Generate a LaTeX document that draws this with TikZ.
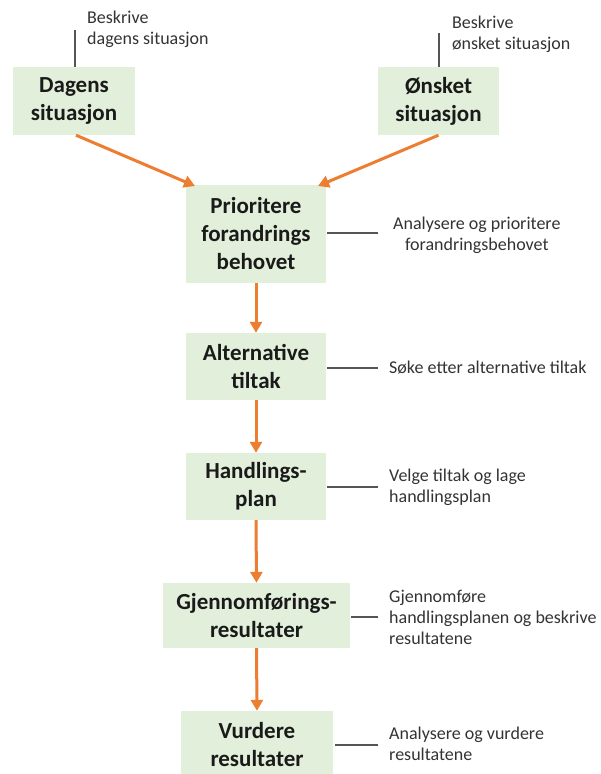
\documentclass[tikz,border=0pt]{standalone}
\usepackage{fontspec}
\setmainfont{Carlito}
\usetikzlibrary{arrows.meta}
\definecolor{boxgreen}{HTML}{E2EFDA}
\definecolor{arrorange}{HTML}{ED7D31}
\definecolor{txtdark}{HTML}{1A1A1A}
\definecolor{txtgray}{HTML}{333333}
\definecolor{linegray}{HTML}{555555}
\tikzset{
  stepbox/.style={rectangle, fill=boxgreen, inner sep=0pt, align=center,
    text=txtdark, font=\fontsize{23}{28}\selectfont\bfseries},
  sidelabel/.style={anchor=west, inner sep=0pt, text=txtgray,
    font=\fontsize{18}{21}\selectfont},
  flow/.style={draw=arrorange, line width=3pt, -{Triangle[length=11pt,width=12pt]}, shorten >=0pt},
  tick/.style={draw=linegray, line width=1.3pt},
}
\begin{document}
\begin{tikzpicture}[x=1pt,y=-1pt]
\useasboundingbox (0,0) rectangle (601,774);
\clip (0,0) rectangle (601,774);
% boxes
\node[stepbox, minimum width=122pt, minimum height=68pt] (dagens) at (74,101) {Dagens\\situasjon};
\node[stepbox, minimum width=121pt, minimum height=68pt] (onsket) at (438.5,101) {Ønsket\\situasjon};
\node[stepbox, minimum width=140pt, minimum height=98pt] (prior) at (256,234) {Prioritere\\forandrings\\behovet};
\node[stepbox, minimum width=140pt, minimum height=67pt] (alt) at (256,366.5) {Alternative\\tiltak};
\node[stepbox, minimum width=140pt, minimum height=67pt] (handl) at (256,486.5) {Handlings-\\plan};
\node[stepbox, minimum width=187pt, minimum height=65pt] (gjen) at (256.5,615.5) {Gjennomførings-\\resultater};
\node[stepbox, minimum width=152pt, minimum height=67pt] (vurd) at (257,744.5) {Vurdere\\resultater};
% side labels
\node[sidelabel, align=left] (ldagens) at (87,29) {Beskrive\\dagens situasjon};
\node[sidelabel, align=left] (lonsket) at (452,34) {Beskrive\\ønsket situasjon};
\node[sidelabel, align=center] (lprior) at (393,235) {Analysere og prioritere\\forandringsbehovet};
\node[sidelabel, align=left] (lalt) at (389,368) {Søke etter alternative tiltak};
\node[sidelabel, align=left] (lhandl) at (389,487) {Velge tiltak og lage\\handlingsplan};
\node[sidelabel, align=left] (lgjen) at (389,617) {Gjennomføre\\handlingsplanen og beskrive\\resultatene};
\node[sidelabel, align=left] (lvurd) at (389,744) {Analysere og vurdere\\resultatene};
% tick line end points
\coordinate (tdagens) at (75,30);
\coordinate (tonsket) at (439,33);
\coordinate (tprior) at (378,233);
\coordinate (talt) at (378,368);
\coordinate (thandl) at (378,487);
\coordinate (tgjen) at (378,617);
\coordinate (tvurd) at (378,745);
\draw[tick] (dagens.north -| tdagens) -- (tdagens);
\draw[tick] (onsket.north -| tonsket) -- (tonsket);
\draw[tick] ([xshift=1pt]prior.east |- tprior) -- (tprior);
\draw[tick] ([xshift=1pt]alt.east |- talt) -- (talt);
\draw[tick] ([xshift=1pt]handl.east |- thandl) -- (thandl);
\draw[tick] ([xshift=1pt]gjen.east |- tgjen) -- (tgjen);
\draw[tick] ([xshift=2pt]vurd.east |- tvurd) -- (tvurd);
% arrows
\coordinate (tipL) at (195,186);
\coordinate (tipR) at (318,186);
\draw[flow] ([xshift=2pt]dagens.south) -- (tipL);
\draw[flow] (onsket.south) -- (tipR);
\draw[flow] (prior.south) -- (alt.north);
\draw[flow] (alt.south) -- (handl.north);
\draw[flow] (handl.south) -- (gjen.north);
\draw[flow] (gjen.south) -- (vurd.north);
\end{tikzpicture}
\end{document}
